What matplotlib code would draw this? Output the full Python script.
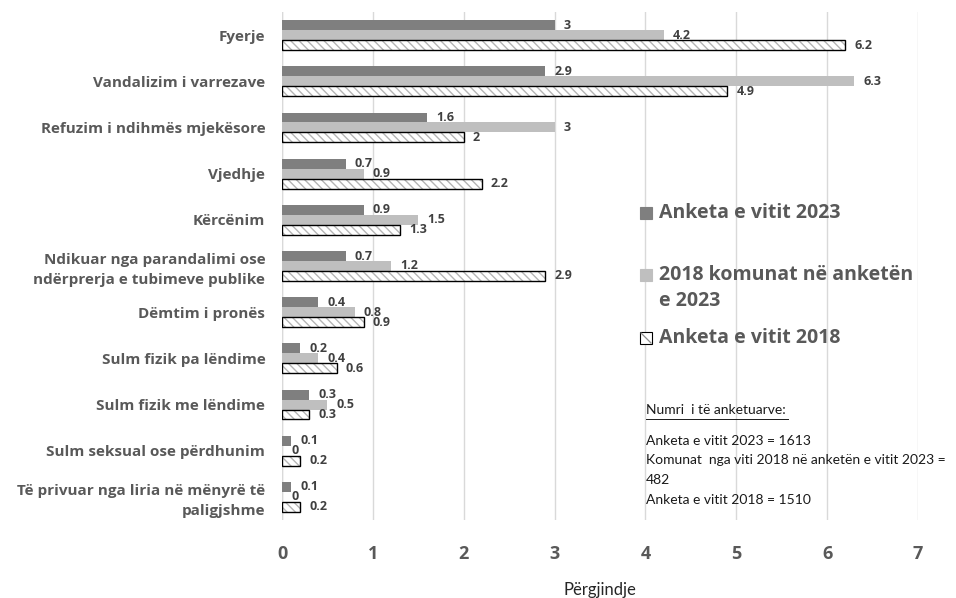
import matplotlib
matplotlib.use("Agg")
import matplotlib.pyplot as plt
from matplotlib.patches import Rectangle
import numpy as np

categories = [
    "Fyerje",
    "Vandalizim i varrezave",
    "Refuzim i ndihmës mjekësore",
    "Vjedhje",
    "Kërcënim",
    "Ndikuar nga parandalimi ose\nndërprerja e tubimeve publike",
    "Dëmtim i pronës",
    "Sulm fizik pa lëndime",
    "Sulm fizik me lëndime",
    "Sulm seksual ose përdhunim",
    "Të privuar nga liria në mënyrë të\npaligjshme",
]
series_names = ["Anketa e vitit 2023", "2018 komunat në anketën\ne 2023", "Anketa e vitit 2018"]
s2023 = [3, 2.9, 1.6, 0.7, 0.9, 0.7, 0.4, 0.2, 0.3, 0.1, 0.1]
s2018k = [4.2, 6.3, 3, 0.9, 1.5, 1.2, 0.8, 0.4, 0.5, 0, 0]
s2018 = [6.2, 4.9, 2, 2.2, 1.3, 2.9, 0.9, 0.6, 0.3, 0.2, 0.2]
xticks = [0, 1, 2, 3, 4, 5, 6, 7]
note_lines = ["Anketa e vitit 2023 = 1613",
              "Komunat  nga viti 2018 në anketën e vitit 2023 =",
              "482",
              "Anketa e vitit 2018 = 1510"]

plt.rcParams["font.family"] = ["Open Sans", "DejaVu Sans"]
plt.rcParams["hatch.linewidth"] = 1.0

fig = plt.figure(figsize=(9.56, 5.98), dpi=100)
ax = fig.add_axes([282 / 956, 1 - 520 / 598, (918 - 282) / 956, (520 - 12) / 598])

y = np.arange(len(categories))
h = 0.215
txtc = "#404040"
hatch_pat = "\\\\\\\\"

ax.barh(y - h, s2023, height=h, color="#7f7f7f", zorder=3)
ax.barh(y, s2018k, height=h, color="#bfbfbf", zorder=3)
ax.barh(y + h, s2018, height=h, color="white", edgecolor="#b5b5b5", hatch=hatch_pat, linewidth=0, zorder=3)
ax.barh(y + h, s2018, height=h, color="none", edgecolor="black", linewidth=1.0, zorder=4)

for vals, off in [(s2023, -h), (s2018k, 0), (s2018, h)]:
    for i, v in enumerate(vals):
        ax.text(v + 0.1, i + off, f"{v:g}", va="center", ha="left",
                fontsize=9, fontweight="bold", color=txtc, zorder=5)

ax.set_xlim(0, 7)
ax.set_ylim(len(categories) - 0.5, -0.5)
ax.set_xticks(xticks)
ax.set_xticklabels([str(t) for t in xticks], fontsize=13, fontweight="bold", color="#595959")
ax.set_yticks(y)
ax.set_yticklabels(categories, fontsize=11, fontweight="bold", color="#595959", linespacing=1.5)
ax.tick_params(axis="both", length=0)
ax.tick_params(axis="x", pad=18)
ax.tick_params(axis="y", pad=12)
for s in ax.spines.values():
    s.set_visible(False)
ax.xaxis.grid(True, color="#d9d9d9", linewidth=1, zorder=0)
ax.set_axisbelow(True)
ax.axvline(0, color="#d9d9d9", linewidth=1, zorder=1)

ax.set_xlabel("Përgjindje", fontsize=12, color="#262626", family=["Lato", "DejaVu Sans"], va="center")
ax.xaxis.set_label_coords(0.5, -(590 - 520) / 508)

# legend (manual)
leg = [("#7f7f7f", None, 213, series_names[0], 213),
       ("#bfbfbf", None, 275, series_names[1], 288),
       ("white", hatch_pat, 338, series_names[2], 338)]
for fc, hatch, ybox, label, ytxt in leg:
    r = Rectangle((640 / 956, 1 - (ybox + 6) / 598), 12 / 956, 12 / 598,
                  transform=fig.transFigure, facecolor=fc,
                  edgecolor="black" if hatch else fc, hatch=None, linewidth=0.8)
    fig.patches.append(r)
    if hatch:
        fig.add_artist(plt.Line2D([641 / 956, 651 / 956],
                                  [1 - (ybox - 5) / 598, 1 - (ybox + 5) / 598],
                                  transform=fig.transFigure, color="#8c8c8c", linewidth=0.9))
    fig.text(659 / 956, 1 - ytxt / 598, label, fontsize=14, fontweight="bold",
             color="#595959", va="center", ha="left", linespacing=1.45)

fig.text(646 / 956, 1 - 410 / 598, "Numri  i të anketuarve:", fontsize=10,
         color="#1a1a1a", va="center", family=["Lato", "DejaVu Sans"])
fig.add_artist(plt.Line2D([646 / 956, 788 / 956], [1 - 419 / 598] * 2,
                          transform=fig.transFigure, color="#1a1a1a", linewidth=0.7))
for k, line in enumerate(note_lines):
    fig.text(646 / 956, 1 - (441 + 19.5 * k) / 598, line, fontsize=10,
             color="#1a1a1a", va="center", family=["Lato", "DejaVu Sans"])

fig.savefig("out.png", dpi=100)
